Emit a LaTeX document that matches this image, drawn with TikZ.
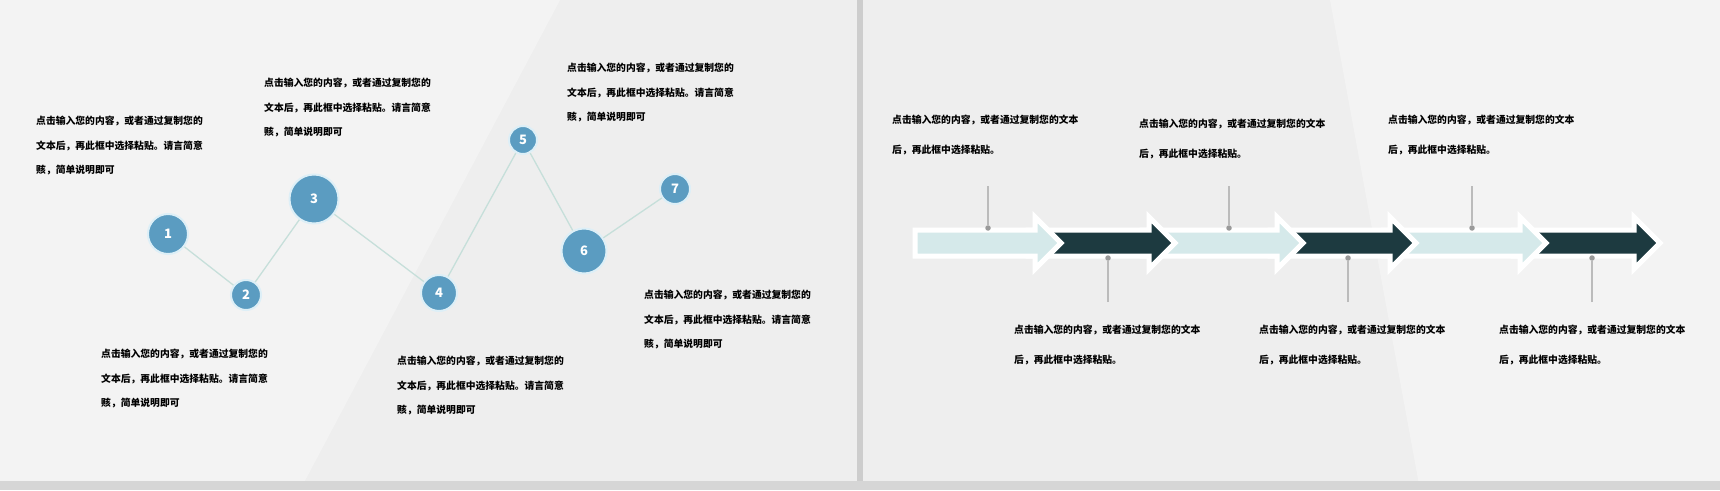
\documentclass[tikz,border=0pt]{standalone}
\usepackage{fontspec}
\setmainfont{Noto Sans CJK SC}
\usetikzlibrary{positioning}
\definecolor{bgcol}{HTML}{EEEEEE}
\definecolor{divcol}{HTML}{CDCDCD}
\definecolor{basecol}{HTML}{D6D6D6}
\definecolor{circfill}{HTML}{5B9CC1}
\definecolor{circring}{HTML}{DDEFF7}
\definecolor{linkcol}{HTML}{C6DFDA}
\definecolor{lightarr}{HTML}{D5E9EA}
\definecolor{darkarr}{HTML}{1D3A40}
\definecolor{stemcol}{HTML}{BBBBBB}
\definecolor{dotcol}{HTML}{9A9A9A}

\begin{document}
\begin{tikzpicture}[x=1pt,y=-1pt,
    numcirc/.style={circle,fill=circfill,draw=circring,line width=2pt,text=white,inner sep=0pt,font=\fontsize{13}{13}\selectfont\bfseries},
    note/.style={anchor=north west,inner sep=0pt,align=left,font=\fontsize{9.8}{24.5}\selectfont\bfseries},
    wnote/.style={anchor=north west,inner sep=0pt,align=left,font=\fontsize{9.8}{30}\selectfont\bfseries},
    link/.style={linkcol,line width=1.3pt},
    stem/.style={stemcol,line width=1.6pt},
    dot/.style={circle,fill=dotcol,inner sep=0pt,minimum size=5.5pt}
  ]
    % background of both slides
    \fill[bgcol] (0,0) rectangle (1720,490);
    \fill[white,opacity=0.35] (0,0) -- (560,0) -- (300,490) -- (0,490) -- cycle;
    \fill[white,opacity=0.3] (1330,0) -- (1720,0) -- (1720,490) -- (1420,490) -- cycle;
    \fill[divcol] (857,0) rectangle (863,481);
    \fill[basecol] (0,481) rectangle (1720,490);

    % Left slide: numbered points
    \node[numcirc,minimum size=40pt] (c1) at (168,234) {1};
    \node[numcirc,minimum size=30pt] (c2) at (246,295) {2};
    \node[numcirc,minimum size=49pt] (c3) at (314,199) {3};
    \node[numcirc,minimum size=36pt] (c4) at (439,293) {4};
    \node[numcirc,minimum size=28pt] (c5) at (523,140) {5};
    \node[numcirc,minimum size=45pt] (c6) at (584,251) {6};
    \node[numcirc,minimum size=30pt] (c7) at (675,189) {7};

    \draw[link] (c1) -- (c2);
    \draw[link] (c2) -- (c3);
    \draw[link] (c3) -- (c4);
    \draw[link] (c4) -- (c5);
    \draw[link] (c5) -- (c6);
    \draw[link] (c6) -- (c7);

    % Left slide: text blocks
    \node[note] (t1) at (36,116) {点击输入您的内容，或者通过复制您的\\文本后，再此框中选择粘贴。请言简意\\赅，简单说明即可};
    \node[note] (t2) at (264,78) {点击输入您的内容，或者通过复制您的\\文本后，再此框中选择粘贴。请言简意\\赅，简单说明即可};
    \node[note] (t3) at (567,63) {点击输入您的内容，或者通过复制您的\\文本后，再此框中选择粘贴。请言简意\\赅，简单说明即可};
    \node[note] (t4) at (644,290) {点击输入您的内容，或者通过复制您的\\文本后，再此框中选择粘贴。请言简意\\赅，简单说明即可};
    \node[note] (t5) at (101,349) {点击输入您的内容，或者通过复制您的\\文本后，再此框中选择粘贴。请言简意\\赅，简单说明即可};
    \node[note] (t6) at (397,356) {点击输入您的内容，或者通过复制您的\\文本后，再此框中选择粘贴。请言简意\\赅，简单说明即可};

    % Right slide: arrow band (drawn right to left)
    \foreach \s/\t/\c in {1513/1660/darkarr,1383/1546/lightarr,1270/1416/darkarr,1142/1303/lightarr,1028/1175/darkarr,915/1061/lightarr}{
      \draw[white,line width=5pt,fill=\c,line join=miter]
        (\s,230) -- (\t-26,230) -- (\t-26,217) -- (\t,243) -- (\t-26,269) -- (\t-26,256) -- (\s,256) -- cycle;
    }

    % Right slide: stems and dots
    \node[dot] (d1) at (988,228) {};
    \node[dot] (d2) at (1108,258) {};
    \node[dot] (d3) at (1229,228) {};
    \node[dot] (d4) at (1348,258) {};
    \node[dot] (d5) at (1472,228) {};
    \node[dot] (d6) at (1592,258) {};
    \coordinate (s1) at (988,186);
    \coordinate (s2) at (1108,302);
    \coordinate (s3) at (1229,186);
    \coordinate (s4) at (1348,302);
    \coordinate (s5) at (1472,186);
    \coordinate (s6) at (1592,302);
    \draw[stem] (s1) -- (d1);
    \draw[stem] (s2) -- (d2);
    \draw[stem] (s3) -- (d3);
    \draw[stem] (s4) -- (d4);
    \draw[stem] (s5) -- (d5);
    \draw[stem] (s6) -- (d6);

    % Right slide: text blocks
    \node[wnote] (a1) at (892,115) {点击输入您的内容，或者通过复制您的文本\\后，再此框中选择粘贴。};
    \node[wnote] (a2) at (1139,119) {点击输入您的内容，或者通过复制您的文本\\后，再此框中选择粘贴。};
    \node[wnote] (a3) at (1388,115) {点击输入您的内容，或者通过复制您的文本\\后，再此框中选择粘贴。};
    \node[wnote] (b1) at (1014,325) {点击输入您的内容，或者通过复制您的文本\\后，再此框中选择粘贴。};
    \node[wnote] (b2) at (1259,325) {点击输入您的内容，或者通过复制您的文本\\后，再此框中选择粘贴。};
    \node[wnote] (b3) at (1499,325) {点击输入您的内容，或者通过复制您的文本\\后，再此框中选择粘贴。};
\end{tikzpicture}
\end{document}
